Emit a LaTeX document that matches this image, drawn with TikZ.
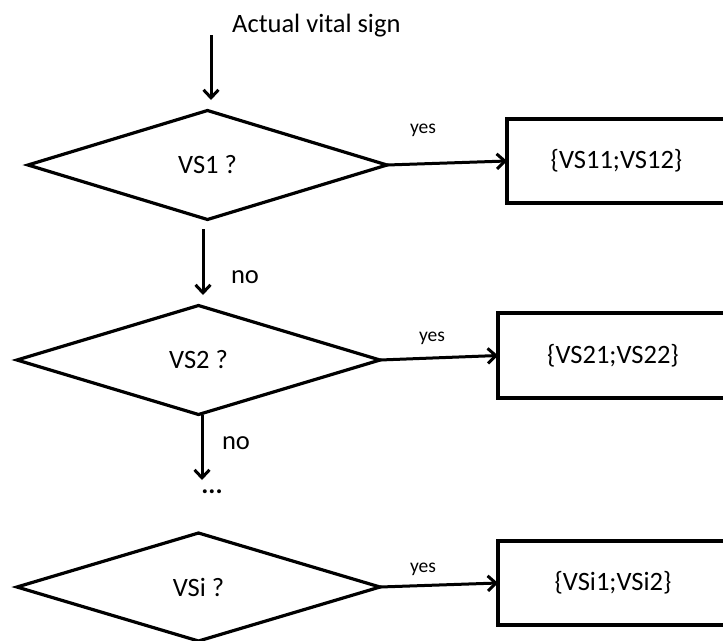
\documentclass[tikz,border=0pt]{standalone}
\usepackage{fontspec}
\setmainfont{Carlito}
\usetikzlibrary{shapes.geometric,arrows.meta}
\tikzset{
  decision/.style={diamond, draw, line width=3.2pt, inner sep=0pt, outer sep=0pt, font=\fontsize{26.5}{30}\selectfont},
  resultbox/.style={rectangle, draw, line width=3.4pt, inner sep=0pt, outer sep=0pt, minimum height=84pt, font=\fontsize{26.5}{30}\selectfont},
  arr/.style={line width=3pt, -{Straight Barb[length=8pt,width=15pt]}},
  biglabel/.style={font=\fontsize{26.5}{30}\selectfont, inner sep=0pt},
  smalllabel/.style={font=\fontsize{19.5}{22}\selectfont, inner sep=0pt}
}
\begin{document}
\begin{tikzpicture}[x=1pt,y=-1pt]
\useasboundingbox (0,0) rectangle (723,640);
\clip (0,0) rectangle (723,640);
% start
\node[biglabel, anchor=base west] (start) at (232,32) {Actual vital sign};
\coordinate (in0) at (211,35);
\coordinate (in1) at (211,100);
\draw[arr] (in0) -- (in1);
% decisions
\node[decision, minimum width=359pt, minimum height=109pt] (d1) at (207.5,165) {VS1 ?};
\node[decision, minimum width=363pt, minimum height=109pt] (d2) at (198.5,360) {VS2 ?};
\node[decision, minimum width=363pt, minimum height=108pt] (d3) at (198.5,587) {VSi ?};
% result boxes
\node[resultbox, minimum width=219pt] (b1) at (616.5,161) {\{VS11;VS12\}};
\node[resultbox, minimum width=230pt, minimum height=85pt] (b2) at (613,355.5) {\{VS21;VS22\}};
\node[resultbox, minimum width=230pt] (b3) at (613,583) {\{VSi1;VSi2\}};
% yes arrows
\draw[arr] (d1.east) -- (b1.west);
\draw[arr] (d2.east) -- (b2.west);
\draw[arr] (d3.east) -- (b3.west);
\node[smalllabel] (y1) at (423,130) {yes};
\node[smalllabel] (y2) at (432,338) {yes};
\node[smalllabel] (y3) at (423,569) {yes};
% no arrows
\draw[arr] ([xshift=-4.5pt,yshift=-9.5pt]d1.south) -- ([xshift=4.5pt,yshift=10.5pt]d2.north);
\node[biglabel] (n1) at (245,277) {no};
\coordinate (dotsend) at (202,480);
\draw[arr] ([xshift=3.5pt]d2.south) -- (dotsend);
\node[biglabel] (n2) at (236,443) {no};
\node[biglabel, anchor=base] (dots) at (212,493) {\textbf{...}};
\end{tikzpicture}
\end{document}
